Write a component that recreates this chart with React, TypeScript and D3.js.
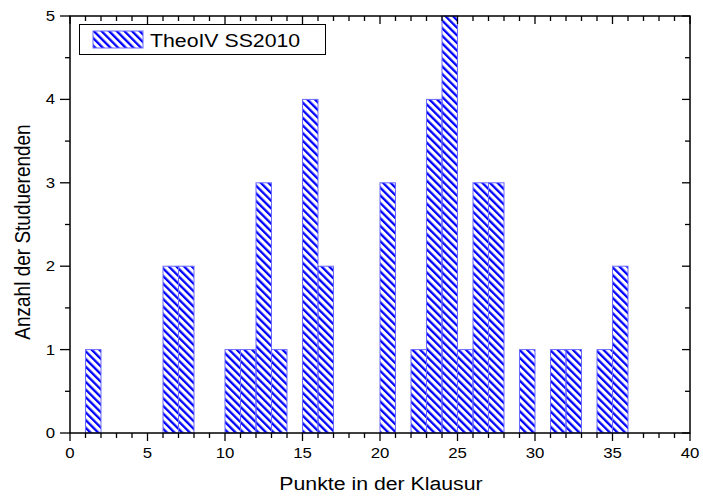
import * as d3 from 'd3'

// histogram bins (left edge, width 1) and counts
const binStarts = [1, 6, 7, 10, 11, 12, 13, 15, 16, 20, 22, 23, 24, 25, 26, 27, 29, 31, 32, 34, 35]
const counts = [1, 2, 2, 1, 1, 3, 1, 4, 2, 3, 1, 4, 5, 1, 3, 3, 1, 1, 1, 1, 2]
const xTicks = [0, 5, 10, 15, 20, 25, 30, 35, 40]
const yTicks = [0, 1, 2, 3, 4, 5]
const seriesName = 'TheoIV SS2010'
const xTitle = 'Punkte in der Klausur'
const yTitle = 'Anzahl der Studuerenden'

const W = 703
const H = 498
const margin = { top: 16, right: 13, bottom: 65, left: 70 }
const font = '"Liberation Sans", Arial, sans-serif'
const stretch = 1.12 // the original text is a little wide

export default function App() {
  const x = d3.scaleLinear().domain([0, 40]).range([margin.left, W - margin.right])
  const y = d3.scaleLinear().domain([0, 5]).range([H - margin.bottom, margin.top])
  const x0 = x.range()[0], x1 = x.range()[1]
  const y0 = y.range()[0], y1 = y.range()[1]

  const xMinor = d3.range(0, 41, 1)
  const yMinor = d3.range(0, 5.01, 0.5)

  return (
    <svg width={W} height={H} style={{ position: 'absolute', left: 0, top: 0, background: '#fff' }}>
      <defs>
        <pattern id="hatch" patternUnits="userSpaceOnUse" width={5.4} height={10} patternTransform="rotate(-45)">
          <rect x={0} y={0} width={2.3} height={10} fill="#0000ff" />
        </pattern>
      </defs>

      {/* bars */}
      {binStarts.map((b, i) => (
        <rect
          key={i}
          x={x(b)}
          y={y(counts[i])}
          width={x(b + 1) - x(b)}
          height={y(0) - y(counts[i])}
          fill="url(#hatch)"
          stroke="#6a6aff"
          strokeWidth={1}
        />
      ))}

      {/* frame */}
      <rect x={x0} y={y1} width={x1 - x0} height={y0 - y1} fill="none" stroke="#000" strokeWidth={1.5} />

      {/* x ticks: bottom outward, top inward */}
      {xMinor.map(v => {
        const major = v % 5 === 0
        const len = major ? 8 : 5
        return (
          <g key={'xt' + v} stroke="#000" strokeWidth={1.3}>
            <line x1={x(v)} x2={x(v)} y1={y0} y2={y0 + len} />
            <line x1={x(v)} x2={x(v)} y1={y1} y2={y1 + len} />
          </g>
        )
      })}
      {/* y ticks: left outward, right inward */}
      {yMinor.map(v => {
        const major = Number.isInteger(v)
        const len = major ? 10 : 5
        return (
          <g key={'yt' + v} stroke="#000" strokeWidth={1.3}>
            <line x1={x0} x2={x0 - len} y1={y(v)} y2={y(v)} />
            <line x1={x1} x2={x1 - (major ? 8 : 5)} y1={y(v)} y2={y(v)} />
          </g>
        )
      })}

      {/* tick labels */}
      {xTicks.map(v => (
        <text key={'xl' + v} transform={`translate(${x(v)},${y0 + 25}) scale(${stretch},1)`}
          textAnchor="middle" fontFamily={font} fontSize={15} fill="#000">{v}</text>
      ))}
      {yTicks.map(v => (
        <text key={'yl' + v} transform={`translate(${x0 - 15},${y(v) + 5}) scale(${stretch},1)`}
          textAnchor="end" fontFamily={font} fontSize={15} fill="#000">{v}</text>
      ))}

      {/* axis titles */}
      <text transform={`translate(${381},${490}) scale(${stretch},1)`} textAnchor="middle"
        fontFamily={font} fontSize={19} fill="#000">{xTitle}</text>
      <text transform={`translate(30,${232}) scale(${stretch},1) rotate(-90)`} textAnchor="middle"
        fontFamily={font} fontSize={19} fill="#000">{yTitle}</text>

      {/* legend */}
      <rect x={79.5} y={24.5} width={246} height={30} fill="#fff" stroke="#000" strokeWidth={1} />
      <rect x={93} y={31} width={50} height={17} fill="url(#hatch)" stroke="#6a6aff" strokeWidth={1} />
      <text transform={`translate(150,47) scale(${stretch},1)`} fontFamily={font} fontSize={19} fill="#000">{seriesName}</text>
    </svg>
  )
}
